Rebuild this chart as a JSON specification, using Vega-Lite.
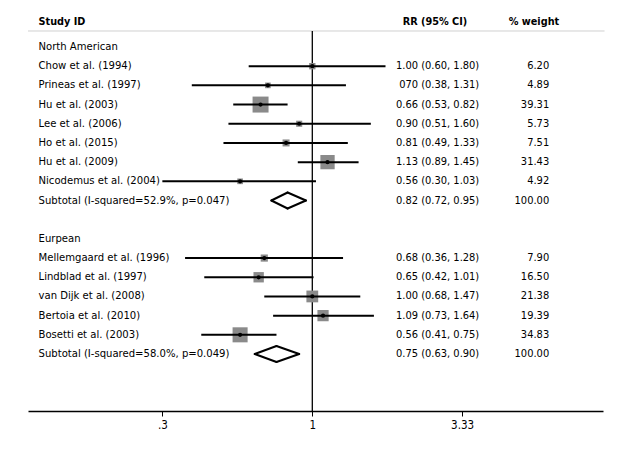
{
  "$schema": "https://vega.github.io/schema/vega-lite/v6.json",
  "width": 575,
  "height": 401,
  "autosize": "none",
  "padding": {"left": 28, "top": 10, "right": 27, "bottom": 39},
  "background": "white",
  "config": {"view": {"stroke": null}, "font": "DejaVu Sans Condensed", "text": {"font": "DejaVu Sans Condensed", "fontSize": 11.2, "baseline": "middle", "color": "black"}},
  "datasets": {
    "rows": [
      {"row": 1, "label": "North American", "type": "group"},
      {"row": 2, "label": "Chow et al. (1994)", "type": "study", "rr": 1.00, "lo": 0.60, "hi": 1.80, "weight": 6.20, "rrtext": "1.00 (0.60, 1.80)", "wtext": "6.20"},
      {"row": 3, "label": "Prineas et al. (1997)", "type": "study", "rr": 0.70, "lo": 0.38, "hi": 1.31, "weight": 4.89, "rrtext": "070 (0.38, 1.31)", "wtext": "4.89"},
      {"row": 4, "label": "Hu et al. (2003)", "type": "study", "rr": 0.66, "lo": 0.53, "hi": 0.82, "weight": 39.31, "rrtext": "0.66 (0.53, 0.82)", "wtext": "39.31"},
      {"row": 5, "label": "Lee et al. (2006)", "type": "study", "rr": 0.90, "lo": 0.51, "hi": 1.60, "weight": 5.73, "rrtext": "0.90 (0.51, 1.60)", "wtext": "5.73"},
      {"row": 6, "label": "Ho et al. (2015)", "type": "study", "rr": 0.81, "lo": 0.49, "hi": 1.33, "weight": 7.51, "rrtext": "0.81 (0.49, 1.33)", "wtext": "7.51"},
      {"row": 7, "label": "Hu et al. (2009)", "type": "study", "rr": 1.13, "lo": 0.89, "hi": 1.45, "weight": 31.43, "rrtext": "1.13 (0.89, 1.45)", "wtext": "31.43"},
      {"row": 8, "label": "Nicodemus et al. (2004)", "type": "study", "rr": 0.56, "lo": 0.30, "hi": 1.03, "weight": 4.92, "rrtext": "0.56 (0.30, 1.03)", "wtext": "4.92"},
      {"row": 9, "label": "Subtotal (I-squared=52.9%, p=0.047)", "type": "subtotal", "rr": 0.82, "lo": 0.72, "hi": 0.95, "weight": 100, "rrtext": "0.82 (0.72, 0.95)", "wtext": "100.00"},
      {"row": 11, "label": "Eurpean", "type": "group"},
      {"row": 12, "label": "Mellemgaard et al. (1996)", "type": "study", "rr": 0.68, "lo": 0.36, "hi": 1.28, "weight": 7.90, "rrtext": "0.68 (0.36, 1.28)", "wtext": "7.90"},
      {"row": 13, "label": "Lindblad et al. (1997)", "type": "study", "rr": 0.65, "lo": 0.42, "hi": 1.01, "weight": 16.50, "rrtext": "0.65 (0.42, 1.01)", "wtext": "16.50"},
      {"row": 14, "label": "van Dijk et al. (2008)", "type": "study", "rr": 1.00, "lo": 0.68, "hi": 1.47, "weight": 21.38, "rrtext": "1.00 (0.68, 1.47)", "wtext": "21.38"},
      {"row": 15, "label": "Bertoia et al. (2010)", "type": "study", "rr": 1.09, "lo": 0.73, "hi": 1.64, "weight": 19.39, "rrtext": "1.09 (0.73, 1.64)", "wtext": "19.39"},
      {"row": 16, "label": "Bosetti et al. (2003)", "type": "study", "rr": 0.56, "lo": 0.41, "hi": 0.75, "weight": 34.83, "rrtext": "0.56 (0.41, 0.75)", "wtext": "34.83"},
      {"row": 17, "label": "Subtotal (I-squared=58.0%, p=0.049)", "type": "subtotal", "rr": 0.75, "lo": 0.63, "hi": 0.90, "weight": 100, "rrtext": "0.75 (0.63, 0.90)", "wtext": "100.00"}
    ]
  },
  "resolve": {"scale": {"x": "shared", "y": "shared"}},
  "layer": [
    {
      "data": {"values": [{}]},
      "mark": {"type": "rule", "color": "#d0d0d0", "strokeWidth": 1},
      "encoding": {
        "x": {"datum": 0.102, "type": "quantitative", "title": null, "scale": {"type": "log", "domain": [0.102, 10.32], "nice": false},
              "axis": {"values": [0.3, 1, 3.33], "labelExpr": "datum.value == 0.3 ? '.3' : datum.value == 1 ? '1' : '3.33'", "title": null, "grid": false, "domainColor": "black", "domainWidth": 1.5, "tickColor": "black", "tickWidth": 1, "tickSize": 5, "labelFont": "DejaVu Sans Condensed", "labelFontSize": 11.5, "labelColor": "black", "labelPadding": 3}},
        "x2": {"datum": 10.45},
        "y": {"datum": 0.166, "type": "quantitative", "scale": {"domain": [-0.928, 19.97], "reverse": true, "zero": false, "nice": false}, "axis": null}
      }
    },
    {
      "data": {"values": [{}]},
      "mark": {"type": "rule", "color": "black", "strokeWidth": 1.3},
      "encoding": {
        "x": {"datum": 1, "type": "quantitative", "title": null},
        "y": {"datum": 0.166, "type": "quantitative"},
        "y2": {"datum": 19.97}
      }
    },
    {
      "data": {"name": "rows"},
      "transform": [{"filter": "datum.type === 'study'"}],
      "mark": {"type": "square", "filled": true, "color": "#8a8a8a", "opacity": 1},
      "encoding": {
        "x": {"field": "rr", "type": "quantitative", "title": null},
        "y": {"field": "row", "type": "quantitative"},
        "size": {"field": "weight", "type": "quantitative", "scale": {"domain": [0, 40], "range": [0, 260]}, "legend": null}
      }
    },
    {
      "data": {"name": "rows"},
      "transform": [{"filter": "datum.type === 'study'"}],
      "mark": {"type": "rule", "color": "black", "strokeWidth": 2},
      "encoding": {
        "x": {"field": "lo", "type": "quantitative", "title": null},
        "x2": {"field": "hi"},
        "y": {"field": "row", "type": "quantitative"}
      }
    },
    {
      "data": {"name": "rows"},
      "transform": [{"filter": "datum.type === 'study'"}],
      "mark": {"type": "circle", "color": "black", "size": 18, "opacity": 1},
      "encoding": {
        "x": {"field": "rr", "type": "quantitative", "title": null},
        "y": {"field": "row", "type": "quantitative"}
      }
    },
    {
      "data": {"name": "rows"},
      "transform": [{"filter": "datum.type === 'subtotal'"}],
      "mark": {"type": "rule", "color": "black", "strokeWidth": 2, "strokeCap": "round", "y2Offset": -8},
      "encoding": {
        "x": {"field": "lo", "type": "quantitative", "title": null},
        "x2": {"field": "rr"},
        "y": {"field": "row", "type": "quantitative"},
        "y2": {"field": "row"}
      }
    },
    {
      "data": {"name": "rows"},
      "transform": [{"filter": "datum.type === 'subtotal'"}],
      "mark": {"type": "rule", "color": "black", "strokeWidth": 2, "strokeCap": "round", "y2Offset": 8},
      "encoding": {
        "x": {"field": "lo", "type": "quantitative", "title": null},
        "x2": {"field": "rr"},
        "y": {"field": "row", "type": "quantitative"},
        "y2": {"field": "row"}
      }
    },
    {
      "data": {"name": "rows"},
      "transform": [{"filter": "datum.type === 'subtotal'"}],
      "mark": {"type": "rule", "color": "black", "strokeWidth": 2, "strokeCap": "round", "yOffset": -8},
      "encoding": {
        "x": {"field": "rr", "type": "quantitative", "title": null},
        "x2": {"field": "hi"},
        "y": {"field": "row", "type": "quantitative"},
        "y2": {"field": "row"}
      }
    },
    {
      "data": {"name": "rows"},
      "transform": [{"filter": "datum.type === 'subtotal'"}],
      "mark": {"type": "rule", "color": "black", "strokeWidth": 2, "strokeCap": "round", "yOffset": 8},
      "encoding": {
        "x": {"field": "rr", "type": "quantitative", "title": null},
        "x2": {"field": "hi"},
        "y": {"field": "row", "type": "quantitative"},
        "y2": {"field": "row"}
      }
    },
    {
      "data": {"name": "rows"},
      "mark": {"type": "text", "align": "left"},
      "encoding": {
        "x": {"datum": 0.111, "type": "quantitative", "title": null},
        "y": {"field": "row", "type": "quantitative"},
        "text": {"field": "label"}
      }
    },
    {
      "data": {"name": "rows"},
      "transform": [{"filter": "isValid(datum.rrtext)"}],
      "mark": {"type": "text", "align": "right", "fontSize": 11},
      "encoding": {
        "x": {"datum": 3.82, "type": "quantitative", "title": null},
        "y": {"field": "row", "type": "quantitative"},
        "text": {"field": "rrtext"}
      }
    },
    {
      "data": {"name": "rows"},
      "transform": [{"filter": "isValid(datum.wtext)"}],
      "mark": {"type": "text", "align": "right", "fontSize": 11},
      "encoding": {
        "x": {"datum": 6.70, "type": "quantitative", "title": null},
        "y": {"field": "row", "type": "quantitative"},
        "text": {"field": "wtext"}
      }
    },
    {
      "data": {"values": [{"h": "Study ID"}]},
      "mark": {"type": "text", "align": "left", "fontWeight": "bold", "fontSize": 10.8},
      "encoding": {
        "x": {"datum": 0.111, "type": "quantitative", "title": null},
        "y": {"datum": -0.3, "type": "quantitative"},
        "text": {"field": "h"}
      }
    },
    {
      "data": {"values": [{"h": "RR (95% CI)"}]},
      "mark": {"type": "text", "align": "right", "fontWeight": "bold", "fontSize": 10.8},
      "encoding": {
        "x": {"datum": 3.47, "type": "quantitative", "title": null},
        "y": {"datum": -0.3, "type": "quantitative"},
        "text": {"field": "h"}
      }
    },
    {
      "data": {"values": [{"h": "% weight"}]},
      "mark": {"type": "text", "align": "right", "fontWeight": "bold", "fontSize": 10.8},
      "encoding": {
        "x": {"datum": 7.26, "type": "quantitative", "title": null},
        "y": {"datum": -0.3, "type": "quantitative"},
        "text": {"field": "h"}
      }
    }
  ]
}
